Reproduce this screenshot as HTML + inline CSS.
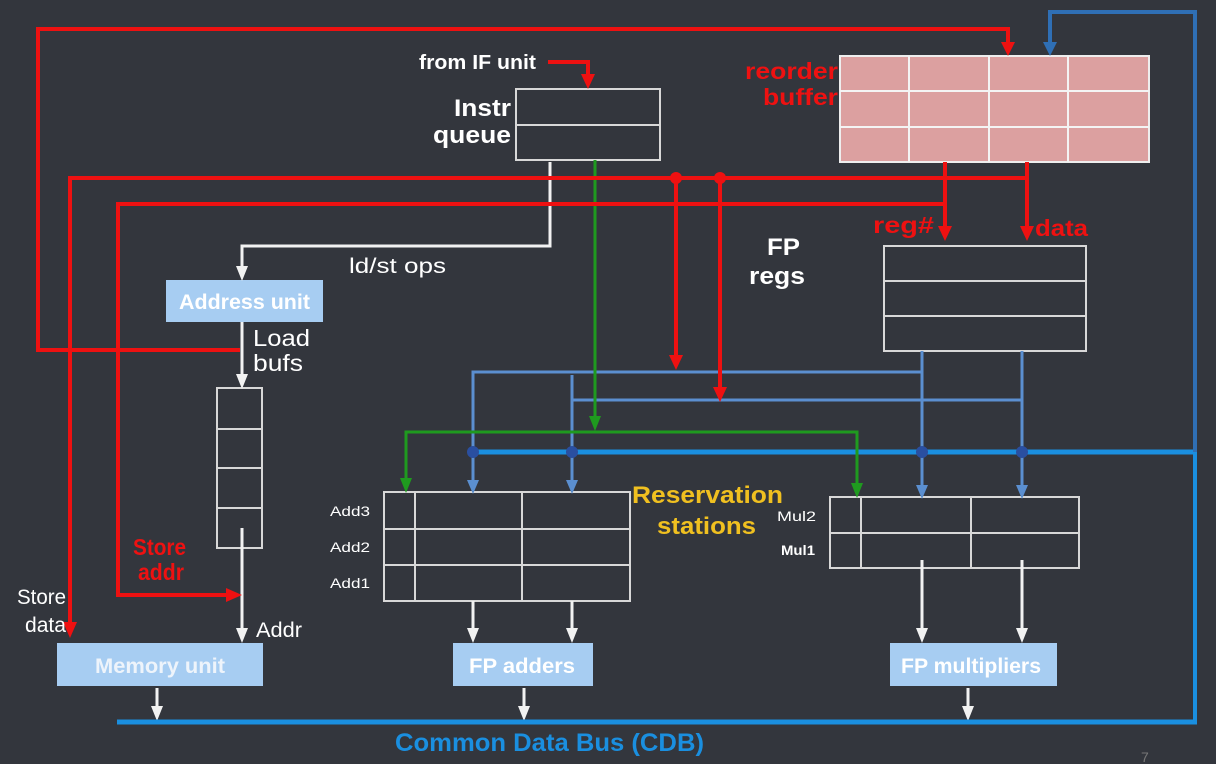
<!DOCTYPE html>
<html><head><meta charset="utf-8"><style>
html,body{margin:0;padding:0;background:#33363d;}
svg{display:block;font-family:"Liberation Sans",sans-serif;}
</style></head><body>
<svg width="1216" height="764" viewBox="0 0 1216 764" xmlns="http://www.w3.org/2000/svg">
<rect width="1216" height="764" fill="#33363d"/>
<!-- ROB -->
<rect x="840" y="56" width="309" height="106" fill="#dca0a0" stroke="#eee" stroke-width="2"/>
<g stroke="#f4f4f4" stroke-width="2"><line x1="909" y1="56" x2="909" y2="162"/><line x1="989" y1="56" x2="989" y2="162"/><line x1="1068" y1="56" x2="1068" y2="162"/><line x1="840" y1="91" x2="1149" y2="91"/><line x1="840" y1="127" x2="1149" y2="127"/></g>
<!-- boxes -->
<g fill="none" stroke="#d8d8d8" stroke-width="2">
<rect x="516" y="89" width="144" height="71"/><line x1="516" y1="125" x2="660" y2="125"/>
<rect x="884" y="246" width="202" height="105"/><line x1="884" y1="281" x2="1086" y2="281"/><line x1="884" y1="316" x2="1086" y2="316"/>
<rect x="217" y="388" width="45" height="160"/><line x1="217" y1="429" x2="262" y2="429"/><line x1="217" y1="468" x2="262" y2="468"/><line x1="217" y1="508" x2="262" y2="508"/>
<rect x="384" y="492" width="246" height="109"/><line x1="384" y1="529" x2="630" y2="529"/><line x1="384" y1="565" x2="630" y2="565"/><line x1="415" y1="492" x2="415" y2="601"/><line x1="522" y1="492" x2="522" y2="601"/>
<rect x="830" y="497" width="249" height="71"/><line x1="830" y1="533" x2="1079" y2="533"/><line x1="861" y1="497" x2="861" y2="568"/><line x1="971" y1="497" x2="971" y2="568"/>
</g>
<!-- blue units -->
<g fill="#a7cdf2"><rect x="166" y="280" width="157" height="42"/><rect x="57" y="643" width="206" height="43"/><rect x="453" y="643" width="140" height="43"/><rect x="890" y="643" width="167" height="43"/></g>
<!-- white lines -->
<g stroke="#f2f2f2" stroke-width="3" fill="none">
<polyline points="550,162 550,246 242,246 242,270"/>
<line x1="242" y1="322" x2="242" y2="378"/>
<line x1="242" y1="528" x2="242" y2="633"/>
<line x1="473" y1="601" x2="473" y2="633"/><line x1="572" y1="601" x2="572" y2="633"/>
<line x1="922" y1="560" x2="922" y2="633"/><line x1="1022" y1="560" x2="1022" y2="633"/>
<line x1="157" y1="688" x2="157" y2="710"/><line x1="524" y1="688" x2="524" y2="710"/><line x1="968" y1="688" x2="968" y2="710"/>
</g>
<g fill="#f2f2f2">
<path d="M236,266 L248,266 L242,281z"/><path d="M236,374 L248,374 L242,389z"/><path d="M236,628 L248,628 L242,643z"/>
<path d="M467,628 L479,628 L473,643z"/><path d="M566,628 L578,628 L572,643z"/><path d="M916,628 L928,628 L922,643z"/><path d="M1016,628 L1028,628 L1022,643z"/>
<path d="M151,706 L163,706 L157,721z"/><path d="M518,706 L530,706 L524,721z"/><path d="M962,706 L974,706 L968,721z"/>
</g>
<!-- steel blue -->
<g stroke="#5b8fd0" stroke-width="3" fill="none">
<polyline points="922,351 922,372 473,372 473,484"/>
<polyline points="1022,351 1022,400 572,400"/>
<line x1="572" y1="375" x2="572" y2="484"/>
<line x1="922" y1="372" x2="922" y2="489"/><line x1="1022" y1="400" x2="1022" y2="489"/>
</g>
<g fill="#5b8fd0"><path d="M467,480 L479,480 L473,494z"/><path d="M566,480 L578,480 L572,494z"/><path d="M916,485 L928,485 L922,499z"/><path d="M1016,485 L1028,485 L1022,499z"/></g>
<!-- CDB -->
<g stroke="#1a8fe0" stroke-width="5" fill="none"><line x1="470" y1="452" x2="1197" y2="452"/><line x1="117" y1="722" x2="1197" y2="722"/></g>
<polyline points="1195,452 1195,12 1050,12 1050,45" stroke="#2f6fb5" stroke-width="4" fill="none"/>
<line x1="1195" y1="452" x2="1195" y2="722" stroke="#1a8fe0" stroke-width="4"/>
<path d="M1043,42 L1057,42 L1050,56z" fill="#2f6fb5"/>
<g fill="#2a4fa0"><circle cx="473" cy="452" r="6"/><circle cx="572" cy="452" r="6"/><circle cx="922" cy="452" r="6"/><circle cx="1022" cy="452" r="6"/></g>
<!-- green -->
<g stroke="#1f9a1f" stroke-width="3" fill="none">
<line x1="595" y1="160" x2="595" y2="420"/>
<polyline points="406,482 406,432 857,432 857,487"/>
</g>
<g fill="#1f9a1f"><path d="M589,416 L601,416 L595,431z"/><path d="M400,478 L412,478 L406,493z"/><path d="M851,483 L863,483 L857,498z"/></g>
<!-- red -->
<g stroke="#ee1111" stroke-width="4" fill="none">
<polyline points="240,350 38,350 38,29 1008,29 1008,45"/>
<polyline points="548,62 588,62 588,78"/>
<polyline points="70,625 70,178 1027,178"/>
<line x1="1027" y1="162" x2="1027" y2="230"/>
<polyline points="228,595 118,595 118,204 945,204"/>
<line x1="945" y1="162" x2="945" y2="230"/>
<line x1="676" y1="178" x2="676" y2="358"/>
<line x1="720" y1="178" x2="720" y2="390"/>
</g>
<g fill="#ee1111">
<path d="M1001,42 L1015,42 L1008,56z"/><path d="M581,74 L595,74 L588,89z"/>
<path d="M63,622 L77,622 L70,638z"/><path d="M226,588 L226,602 L242,595z"/>
<path d="M938,226 L952,226 L945,241z"/><path d="M1020,226 L1034,226 L1027,241z"/>
<path d="M669,355 L683,355 L676,370z"/><path d="M713,387 L727,387 L720,402z"/>
<circle cx="676" cy="178" r="6"/><circle cx="720" cy="178" r="6"/>
</g>
<!-- text -->
<g fill="#ffffff" font-weight="bold" lengthAdjust="spacingAndGlyphs">
<text x="419" y="69" font-size="20" textLength="117" lengthAdjust="spacingAndGlyphs">from IF unit</text>
<text x="454" y="116" font-size="24" textLength="57" lengthAdjust="spacingAndGlyphs">Instr</text>
<text x="433" y="143" font-size="24" textLength="78" lengthAdjust="spacingAndGlyphs">queue</text>
<text x="767" y="255" font-size="24" textLength="33" lengthAdjust="spacingAndGlyphs">FP</text>
<text x="749" y="284" font-size="24" textLength="56" lengthAdjust="spacingAndGlyphs">regs</text>
<text x="179" y="309" font-size="21" textLength="131" lengthAdjust="spacingAndGlyphs">Address unit</text>
<text x="95" y="673" font-size="21" fill="#eef4fb" textLength="130" lengthAdjust="spacingAndGlyphs">Memory unit</text>
<text x="469" y="673" font-size="21" textLength="106" lengthAdjust="spacingAndGlyphs">FP adders</text>
<text x="901" y="673" font-size="21" textLength="140" lengthAdjust="spacingAndGlyphs">FP multipliers</text>
<text x="781" y="555" font-size="14" textLength="34" lengthAdjust="spacingAndGlyphs">Mul1</text>
</g>
<g fill="#ffffff">
<text x="349" y="273" font-size="21" textLength="97" lengthAdjust="spacingAndGlyphs">ld/st ops</text>
<text x="253" y="346" font-size="23" textLength="57" lengthAdjust="spacingAndGlyphs">Load</text>
<text x="253" y="371" font-size="23" textLength="50" lengthAdjust="spacingAndGlyphs">bufs</text>
<text x="17" y="604" font-size="21" textLength="49" lengthAdjust="spacingAndGlyphs">Store</text>
<text x="25" y="632" font-size="21" textLength="41" lengthAdjust="spacingAndGlyphs">data</text>
<text x="256" y="637" font-size="21" textLength="46" lengthAdjust="spacingAndGlyphs">Addr</text>
<text x="330" y="516" font-size="14" textLength="40" lengthAdjust="spacingAndGlyphs">Add3</text>
<text x="330" y="552" font-size="14" textLength="40" lengthAdjust="spacingAndGlyphs">Add2</text>
<text x="330" y="588" font-size="14" textLength="40" lengthAdjust="spacingAndGlyphs">Add1</text>
<text x="777" y="521" font-size="14" textLength="39" lengthAdjust="spacingAndGlyphs">Mul2</text>
</g>
<g fill="#ee1111" font-weight="bold" font-size="23">
<text x="745" y="79" textLength="93" lengthAdjust="spacingAndGlyphs">reorder</text>
<text x="763" y="105" textLength="75" lengthAdjust="spacingAndGlyphs">buffer</text>
<text x="873" y="233" textLength="61" lengthAdjust="spacingAndGlyphs">reg#</text>
<text x="1035" y="236" textLength="53" lengthAdjust="spacingAndGlyphs">data</text>
<text x="133" y="555" textLength="53" lengthAdjust="spacingAndGlyphs">Store</text>
<text x="138" y="580" textLength="46" lengthAdjust="spacingAndGlyphs">addr</text>
</g>
<g fill="#f0c020" font-weight="bold" font-size="24">
<text x="632" y="503" textLength="151" lengthAdjust="spacingAndGlyphs">Reservation</text><text x="657" y="534" textLength="99" lengthAdjust="spacingAndGlyphs">stations</text>
</g>
<text x="395" y="751" fill="#1a8fe0" font-weight="bold" font-size="25" textLength="309" lengthAdjust="spacingAndGlyphs">Common Data Bus (CDB)</text>
<text x="1141" y="762" fill="#777" font-size="14">7</text>
</svg>
</body></html>
